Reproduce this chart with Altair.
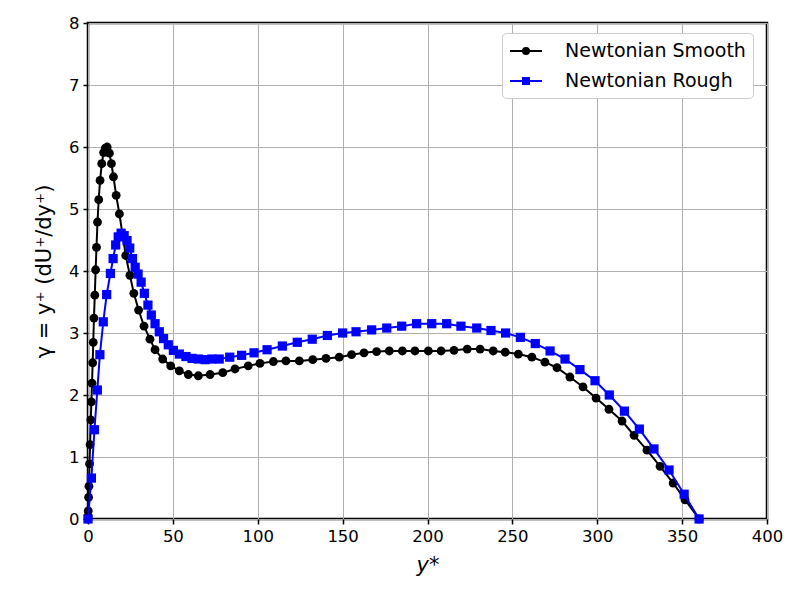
import altair as alt
import pandas as pd

# ---- data ----
smooth_yplus = [0.0, 0.05, 0.15, 0.35, 0.55, 0.9, 1.22, 1.65, 2.0, 2.35,
                2.75, 3.1, 3.5, 4.0, 4.5, 5.0, 5.6, 6.3, 7.1, 8.1,
                9.2, 10.2, 11.3, 12.6, 13.8, 15.0, 16.6, 18.5, 20.3, 22.2,
                24.7, 27.0, 29.8, 33.0, 36.5, 39.5, 44.0, 48.7, 53.8, 59.1,
                65.0, 71.9, 79.4, 86.6, 94.4, 101.3, 109.2, 116.6, 124.5, 132.4,
                140.2, 148.0, 155.3, 162.6, 170.0, 177.5, 185.2, 192.6, 200.5, 208.0,
                215.6, 223.4, 231.0, 238.7, 245.8, 253.5, 261.5, 269.2, 276.3, 283.9,
                291.6, 299.3, 306.9, 314.6, 321.7, 329.3, 337.0, 344.7, 351.7, 360.0]
smooth_gamma = [0.0, 0.05, 0.13, 0.35, 0.53, 0.89, 1.2, 1.6, 1.89, 2.19,
                2.52, 2.85, 3.24, 3.61, 4.02, 4.38, 4.79, 5.15, 5.46, 5.73,
                5.91, 5.98, 6.0, 5.9, 5.73, 5.52, 5.22, 4.92, 4.6, 4.25,
                3.93, 3.64, 3.37, 3.11, 2.9, 2.73, 2.58, 2.47, 2.39, 2.33,
                2.31, 2.33, 2.36, 2.42, 2.47, 2.51, 2.54, 2.55, 2.55, 2.57,
                2.59, 2.61, 2.65, 2.68, 2.70, 2.71, 2.71, 2.71, 2.71, 2.71,
                2.72, 2.74, 2.74, 2.71, 2.69, 2.66, 2.61, 2.53, 2.44, 2.29,
                2.13, 1.95, 1.77, 1.58, 1.35, 1.11, 0.85, 0.58, 0.31, 0.0]

rough_yplus = [0.0, 2.0, 3.8, 5.5, 7.0, 9.0, 11.0, 13.2, 14.8, 16.3,
               17.8, 19.5, 21.3, 23.0, 24.6, 26.2, 27.8, 29.5, 31.3, 33.2,
               35.3, 37.3, 39.5, 42.0, 44.5, 47.3, 50.3, 53.8, 57.7, 61.3,
               65.0, 69.0, 73.0, 77.3, 83.5, 90.5, 97.8, 105.5, 114.5, 123.3,
               132.1, 141.0, 150.0, 157.9, 167.1, 176.0, 184.8, 193.6, 202.5, 211.3,
               219.7, 229.0, 237.4, 246.0, 254.7, 263.5, 272.2, 281.0, 289.8, 298.7,
               307.1, 316.0, 324.8, 333.4, 342.3, 351.2, 360.0]
rough_gamma = [0.0, 0.66, 1.44, 2.08, 2.65, 3.18, 3.62, 3.96, 4.2, 4.42,
               4.55, 4.61, 4.57, 4.49, 4.37, 4.2, 4.06, 3.95, 3.82, 3.64,
               3.45, 3.29, 3.15, 3.02, 2.91, 2.81, 2.72, 2.66, 2.62, 2.59,
               2.58, 2.57, 2.58, 2.58, 2.61, 2.64, 2.68, 2.73, 2.79, 2.85,
               2.90, 2.96, 3.00, 3.02, 3.05, 3.08, 3.11, 3.15, 3.15, 3.15,
               3.11, 3.08, 3.04, 3.00, 2.93, 2.83, 2.71, 2.58, 2.41, 2.23,
               2.0, 1.74, 1.45, 1.13, 0.79, 0.40, 0.0]

series_names = ["Newtonian Smooth", "Newtonian Rough"]
series_colors = ["#000000", "#0000ff"]
series_shapes = ["circle", "square"]
marker_sizes = [78, 85]
x_ticks = [0, 50, 100, 150, 200, 250, 300, 350, 400]
y_ticks = [0, 1, 2, 3, 4, 5, 6, 7, 8]

df = pd.concat([
    pd.DataFrame({"yplus": smooth_yplus, "gamma": smooth_gamma,
                  "series": series_names[0], "idx": range(len(smooth_yplus))}),
    pd.DataFrame({"yplus": rough_yplus, "gamma": rough_gamma,
                  "series": series_names[1], "idx": range(len(rough_yplus))}),
], ignore_index=True)

FONT = "DejaVu Sans"

x_enc = alt.X("yplus:Q",
              scale=alt.Scale(domain=[0, 400], nice=False, zero=False),
              axis=alt.Axis(values=x_ticks, title="y*", format="d"))
y_enc = alt.Y("gamma:Q",
              scale=alt.Scale(domain=[0, 8], nice=False),
              axis=alt.Axis(values=y_ticks, title="γ = y⁺ (dU⁺/dy⁺)", format="d"))
col_scale = alt.Scale(domain=series_names, range=series_colors)

base = alt.Chart(df)

def series_layers(i):
    name = series_names[i]
    b = base.transform_filter(alt.datum.series == name)
    line = b.mark_line(strokeWidth=2, clip=False, color=series_colors[i]).encode(
        x=x_enc, y=y_enc, order="idx:Q")
    pts = b.mark_point(filled=True, size=marker_sizes[i], opacity=1, clip=False,
                       shape=series_shapes[i], color=series_colors[i]).encode(
        x=x_enc, y=y_enc)
    return [line, pts]

# legend glyphs (line + marker), drawn with strokes only; unit = 10 px
def circle_glyph(cx, rmax):
    p = "M-1,0L2.2,0"
    r = 0.1
    while r <= rmax + 1e-9:
        p += f"M{cx + r:.2f},0A{r:.2f},{r:.2f},0,1,1,{cx - r:.2f},0A{r:.2f},{r:.2f},0,1,1,{cx + r:.2f},0"
        r += 0.1
    return p

def square_glyph(cx, hmax):
    p = "M-1,0L2.2,0"
    h = 0.1
    while h <= hmax + 1e-9:
        p += (f"M{cx - h:.2f},{-h:.2f}L{cx + h:.2f},{-h:.2f}L{cx + h:.2f},{h:.2f}"
              f"L{cx - h:.2f},{h:.2f}Z")
        h += 0.1
    return p

legend_def = alt.Legend(
    title=None, orient="none", legendX=414, legendY=10,
    symbolSize=400, symbolStrokeWidth=2, symbolOpacity=1,
    labelFontSize=19, labelFont=FONT, labelColor="black", labelOffset=34,
    labelLimit=400,
    fillColor="white", strokeColor="#cccccc", cornerRadius=4,
    padding=7, rowPadding=9)

legend_layer = base.mark_point(opacity=0, filled=False, strokeWidth=2).encode(
    x=x_enc, y=y_enc,
    stroke=alt.Stroke("series:N", scale=col_scale, legend=legend_def),
    shape=alt.Shape("series:N",
                    scale=alt.Scale(domain=series_names,
                                    range=[circle_glyph(0.6, 0.3), square_glyph(0.6, 0.3)]),
                    legend=legend_def))

layers = series_layers(0) + series_layers(1) + [legend_layer]

chart = alt.layer(*layers).properties(
    width=679, height=496,
    padding={"left": 80, "top": 15, "right": 25, "bottom": 73},
    autosize="none",
    background="white",
).configure_view(
    stroke="black", strokeWidth=2.5
).configure_axis(
    domain=False, labelFlush=False,
    grid=True, gridColor="#b0b0b0", gridWidth=1,
    ticks=True, tickColor="black", tickWidth=1.5, tickSize=5,
    labelFont=FONT, labelFontSize=16.5, labelColor="black", labelPadding=4,
    titleFont=FONT, titleFontSize=21, titleColor="black", titleFontWeight="normal",
).configure_axisX(
    titleFontStyle="italic", titlePadding=10
).configure_axisY(
    titlePadding=14
)

chart.save("out.html", embed_options={"renderer": "svg", "actions": False})
